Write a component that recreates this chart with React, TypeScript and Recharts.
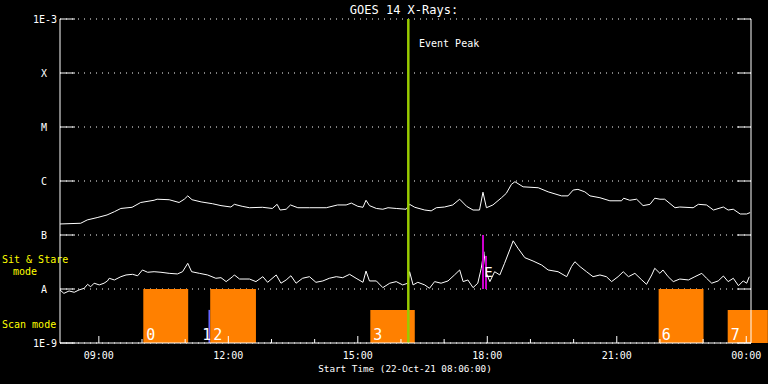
import React from "react"
import {
  ComposedChart,
  Line,
  XAxis,
  YAxis,
  CartesianGrid,
  ReferenceLine,
  ReferenceArea,
  ReferenceDot,
} from "recharts"

const FONT = "'DejaVu Sans Mono', 'Liberation Mono', monospace"

// time in hours of 22-Oct-21 (24 = 00:00 next day)
const longHours = [
  8.1, 8.58, 8.73, 8.96, 9.19, 9.36, 9.51, 9.77, 9.97, 10.28, 10.35, 10.63, 10.86, 10.98, 11.06, 11.16,
  11.37, 11.63, 11.83, 12.06, 12.14, 12.32, 12.49, 12.79, 13.02, 13.13, 13.2, 13.34, 13.44, 13.61, 13.88,
  14.27, 14.53, 14.73, 14.85, 15.0, 15.12, 15.19, 15.27, 15.43, 15.58, 15.7, 15.89, 16.12, 16.2, 16.32,
  16.55, 16.7, 16.82, 17.01, 17.2, 17.36, 17.52, 17.67, 17.82, 17.9, 17.98, 18.13, 18.33, 18.44, 18.56,
  18.64, 18.83, 19.18, 19.41, 19.72, 19.87, 19.99, 20.1, 20.26, 20.38, 20.61, 20.84, 21.11, 21.16, 21.3,
  21.46, 21.61, 21.77, 21.88, 22.0, 22.11, 22.35, 22.46, 22.77, 22.89, 23.08, 23.24, 23.47, 23.58, 23.7,
  23.86, 24.01, 24.09,
]
const longFlux = [
  1.6e-7, 1.65e-7, 1.9e-7, 2.1e-7, 2.35e-7, 2.7e-7, 3.1e-7, 3.26e-7, 4.0e-7, 4.4e-7, 4.6e-7, 4.5e-7, 4.0e-7,
  4.6e-7, 5.3e-7, 4.5e-7, 4.1e-7, 3.8e-7, 3.5e-7, 3.3e-7, 3.7e-7, 3.4e-7, 3.2e-7, 3.26e-7, 3.1e-7, 3.7e-7,
  2.9e-7, 3.0e-7, 3.6e-7, 3.2e-7, 3.2e-7, 3.2e-7, 3.6e-7, 3.6e-7, 3.9e-7, 3.4e-7, 3.26e-7, 4.4e-7, 3.5e-7,
  3.1e-7, 3.0e-7, 3.2e-7, 3.1e-7, 3.0e-7, 3.7e-7, 3.26e-7, 2.9e-7, 2.8e-7, 3.2e-7, 3.3e-7, 3.6e-7, 4.6e-7,
  3.4e-7, 2.9e-7, 2.9e-7, 6.2e-7, 3.2e-7, 3.6e-7, 4.9e-7, 5.9e-7, 8.7e-7, 9.7e-7, 7.8e-7, 7.5e-7, 6.3e-7,
  5.3e-7, 5.3e-7, 6.8e-7, 7.0e-7, 6.3e-7, 5.3e-7, 4.9e-7, 4.3e-7, 4.3e-7, 4.8e-7, 4.4e-7, 4.6e-7, 3.5e-7,
  3.7e-7, 4.8e-7, 4.6e-7, 4.6e-7, 3.2e-7, 3.3e-7, 3.2e-7, 3.7e-7, 3.6e-7, 2.9e-7, 3.3e-7, 2.9e-7, 3.0e-7,
  2.45e-7, 2.45e-7, 2.6e-7,
]

const shortHours = [
  8.1, 8.19, 8.31, 8.43, 8.54, 8.66, 8.74, 8.81, 8.89, 9.01, 9.12, 9.2, 9.24, 9.36, 9.51, 9.63, 9.78, 9.9,
  10.01, 10.13, 10.28, 10.44, 10.63, 10.82, 10.94, 11.06, 11.15, 11.33, 11.52, 11.71, 11.83, 11.95, 12.1,
  12.14, 12.26, 12.49, 12.64, 12.8, 12.91, 13.11, 13.22, 13.34, 13.45, 13.57, 13.72, 13.88, 14.03, 14.19,
  14.34, 14.5, 14.65, 14.81, 14.96, 15.12, 15.19, 15.27, 15.43, 15.58, 15.74, 15.89, 16.04, 16.16, 16.2,
  16.28, 16.39, 16.55, 16.66, 16.78, 16.93, 17.09, 17.24, 17.36, 17.44, 17.55, 17.67, 17.78, 17.86, 17.92,
  17.98, 18.06, 18.17, 18.29, 18.4, 18.52, 18.6, 18.71, 18.87, 19.06, 19.26, 19.41, 19.64, 19.84, 19.95,
  20.03, 20.15, 20.3, 20.45, 20.61, 20.76, 20.88, 21.03, 21.15, 21.27, 21.42, 21.58, 21.69, 21.81, 21.88,
  22.0, 22.07, 22.19, 22.31, 22.46, 22.66, 22.81, 22.97, 23.08, 23.2, 23.35, 23.47, 23.58, 23.7, 23.82,
  23.93, 24.01, 24.07,
]
const shortFlux = [
  9.6e-9, 8.3e-9, 9.2e-9, 8.7e-9, 9.6e-9, 1.03e-8, 1.22e-8, 1.1e-8, 1.28e-8, 1.19e-8, 1.28e-8, 1.41e-8,
  1.58e-8, 1.47e-8, 1.69e-8, 1.82e-8, 1.87e-8, 1.76e-8, 2.25e-8, 2.04e-8, 2.09e-8, 2.04e-8, 1.95e-8, 1.9e-8,
  2.09e-8, 2.99e-8, 2.09e-8, 1.95e-8, 1.82e-8, 1.58e-8, 1.62e-8, 1.37e-8, 1.69e-8, 1.82e-8, 1.53e-8, 1.53e-8,
  1.37e-8, 1.69e-8, 1.33e-8, 1.82e-8, 1.28e-8, 1.47e-8, 1.76e-8, 1.28e-8, 1.58e-8, 1.69e-8, 1.33e-8, 1.41e-8,
  1.58e-8, 1.69e-8, 1.62e-8, 1.87e-8, 1.58e-8, 1.33e-8, 2.15e-8, 1.41e-8, 1.41e-8, 1.06e-8, 1.28e-8, 1.37e-8,
  1.19e-8, 1.28e-8, 2.09e-8, 1.19e-8, 1.33e-8, 1.19e-8, 1.03e-8, 1.37e-8, 1.28e-8, 1.41e-8, 1.82e-8, 2.25e-8,
  1.37e-8, 1.47e-8, 1.06e-8, 1.28e-8, 2.42e-8, 4.9e-8, 1.95e-8, 1.37e-8, 2.09e-8, 1.82e-8, 2.99e-8, 5.3e-8,
  7.8e-8, 5.7e-8, 3.8e-8, 3.3e-8, 2.78e-8, 2.25e-8, 2.09e-8, 1.69e-8, 2.59e-8, 3.2e-8, 2.59e-8, 2.09e-8,
  1.69e-8, 1.82e-8, 1.69e-8, 1.37e-8, 1.69e-8, 2.09e-8, 1.69e-8, 1.95e-8, 1.47e-8, 1.22e-8, 1.82e-8, 2.42e-8,
  1.95e-8, 2.25e-8, 1.69e-8, 1.37e-8, 1.53e-8, 1.47e-8, 1.69e-8, 1.95e-8, 1.58e-8, 1.28e-8, 1.41e-8, 1.74e-8,
  1.37e-8, 1.58e-8, 1.15e-8, 1.41e-8, 1.28e-8, 1.69e-8,
]

// scan mode intervals
const scanStart = [10.03, 11.54, 11.58, 15.29, 21.97, 23.57]
const scanEnd = [11.07, 11.58, 12.64, 16.32, 23.01, 24.5]
const scanTop = [1e-8, 4.1e-9, 1e-8, 4.1e-9, 1e-8, 4.1e-9]
const scanLabel = ["0", "1", "2", "3", "6", "7"]
const scanColor = ["#ff8000", "#6464ff", "#ff8000", "#ff8000", "#ff8000", "#ff8000"]

const eventPeak = 16.17
const flagHours = [17.9, 17.97]
const flagTop = [1e-7, 4.1e-8]

const hourTicks = [9, 10, 11, 12, 13, 14, 15, 16, 17, 18, 19, 20, 21, 22, 23, 24]
const hourLabels: Record<number, string> = {
  9: "09:00",
  12: "12:00",
  15: "15:00",
  18: "18:00",
  21: "21:00",
  24: "00:00",
}
const fluxTicks = [1e-9, 1e-8, 1e-7, 1e-6, 1e-5, 1e-4, 1e-3]
const fluxLabels = ["1E-9", "A", "B", "C", "M", "X", "1E-3"]

const longData = longHours.map((h, i) => ({ h, flux: longFlux[i] }))
const shortData = shortHours.map((h, i) => ({ h, flux: shortFlux[i] }))

function BottomTick(props: any) {
  const { x, y, payload } = props
  const label = hourLabels[payload.value]
  return (
    <g>
      <line x1={x} x2={x} y1={y} y2={y - (label ? 7 : 4)} stroke="#fff" />
      {label && (
        <text x={x} y={y + 16} textAnchor="middle" fill="#fff" fontSize={10} fontFamily={FONT}>
          {label}
        </text>
      )}
    </g>
  )
}

function TopTick(props: any) {
  const { x, y, payload } = props
  const major = !!hourLabels[payload.value]
  return <line x1={x} x2={x} y1={y} y2={y + (major ? 6 : 3)} stroke="#fff" />
}

function LeftTick(props: any) {
  const { x, y, index } = props
  const label = fluxLabels[index]
  const numeric = label.startsWith("1E")
  return (
    <g>
      <line x1={x} x2={x + 15} y1={y} y2={y} stroke="#fff" />
      <text
        x={numeric ? x - 3 : x - 16}
        y={y + 4}
        textAnchor={numeric ? "end" : "middle"}
        fill="#fff"
        fontSize={10}
        fontFamily={FONT}
      >
        {label}
      </text>
    </g>
  )
}

function RightTick(props: any) {
  const { x, y } = props
  return <line x1={x} x2={x - 14} y1={y} y2={y} stroke="#fff" />
}

// scan number, drawn at the bottom-left of its box; the narrow box 1 gets its number just before box 2
function scanNumber(text: string, narrow: boolean) {
  return (props: any) => {
    const vb = props.viewBox || {}
    const bottom = vb.y + vb.height - 3
    return (
      <text
        x={narrow ? vb.x + vb.width + 1 : vb.x + 3}
        y={bottom}
        textAnchor={narrow ? "end" : "start"}
        fill="#fff"
        fontSize={15}
        fontFamily={FONT}
      >
        {text}
      </text>
    )
  }
}

export default function App() {
  return (
    <div style={{ position: "fixed", left: 0, top: 0, width: 768, height: 384, background: "#000" }}>
      <ComposedChart width={768} height={384} margin={{ top: 19, right: 0, bottom: 0, left: 0 }}>
        <CartesianGrid vertical={false} stroke="#fff" strokeDasharray="1 5" />
        <XAxis
          dataKey="h"
          type="number"
          domain={[8.1, 24.11]}
          allowDataOverflow
          ticks={hourTicks}
          height={41}
          stroke="#fff"
          tickLine={false}
          tickSize={0}
          tickMargin={0}
          tick={<BottomTick />}
          interval={0}
        />
        <XAxis
          xAxisId="top"
          orientation="top"
          dataKey="h"
          type="number"
          domain={[8.1, 24.11]}
          allowDataOverflow
          ticks={hourTicks}
          height={0}
          stroke="#fff"
          tickLine={false}
          tickSize={0}
          tickMargin={0}
          tick={<TopTick />}
          interval={0}
        />
        <YAxis
          type="number"
          scale="log"
          domain={[1e-9, 1e-3]}
          allowDataOverflow
          ticks={fluxTicks}
          width={60}
          stroke="#fff"
          tickLine={false}
          tickSize={0}
          tickMargin={0}
          tick={<LeftTick />}
          interval={0}
        />
        <YAxis
          yAxisId="right"
          orientation="right"
          type="number"
          scale="log"
          domain={[1e-9, 1e-3]}
          allowDataOverflow
          ticks={fluxTicks}
          width={17}
          stroke="#fff"
          tickLine={false}
          tickSize={0}
          tickMargin={0}
          tick={<RightTick />}
          interval={0}
        />

        {scanStart.map((s, i) => (
          <ReferenceArea
            key={i}
            x1={s}
            x2={scanEnd[i]}
            y1={1e-9}
            y2={scanTop[i]}
            fill={scanColor[i]}
            fillOpacity={1}
            stroke="none"
            ifOverflow="visible"
            label={scanNumber(scanLabel[i], scanEnd[i] - s < 0.1)}
          />
        ))}

        <Line
          data={longData}
          dataKey="flux"
          type="linear"
          stroke="#fff"
          strokeWidth={1}
          dot={false}
          isAnimationActive={false}
        />
        <Line
          data={shortData}
          dataKey="flux"
          xAxisId="top"
          yAxisId="right"
          type="linear"
          stroke="#fff"
          strokeWidth={1}
          dot={false}
          isAnimationActive={false}
        />

        {flagHours.map((h, i) => (
          <ReferenceLine
            key={i}
            segment={[
              { x: h, y: 1e-8 },
              { x: h, y: flagTop[i] },
            ]}
            stroke="#cc00cc"
            strokeWidth={2}
          />
        ))}
        <ReferenceDot
          x={18.03}
          y={2.1e-8}
          r={0}
          stroke="none"
          label={{ value: "E", fill: "#fff", fontSize: 14, fontFamily: FONT }}
        />
        <ReferenceLine x={eventPeak} stroke="#99cc00" strokeWidth={2.5} />

        <text x={404} y={14} textAnchor="middle" fill="#fff" fontSize={12} fontFamily={FONT}>
          GOES 14 X-Rays:
        </text>
        <text x={419} y={47} fill="#fff" fontSize={10} fontFamily={FONT}>
          Event Peak
        </text>
        <text x={405} y={372} textAnchor="middle" fill="#fff" fontSize={9.3} fontFamily={FONT}>
          Start Time (22-Oct-21 08:06:00)
        </text>
        <text x={2} y={263} fill="#ffff00" fontSize={10} fontFamily={FONT}>
          Sit &amp; Stare
        </text>
        <text x={13} y={275} fill="#ffff00" fontSize={10} fontFamily={FONT}>
          mode
        </text>
        <text x={2} y={328} fill="#ffff00" fontSize={10} fontFamily={FONT}>
          Scan mode
        </text>
      </ComposedChart>
    </div>
  )
}
